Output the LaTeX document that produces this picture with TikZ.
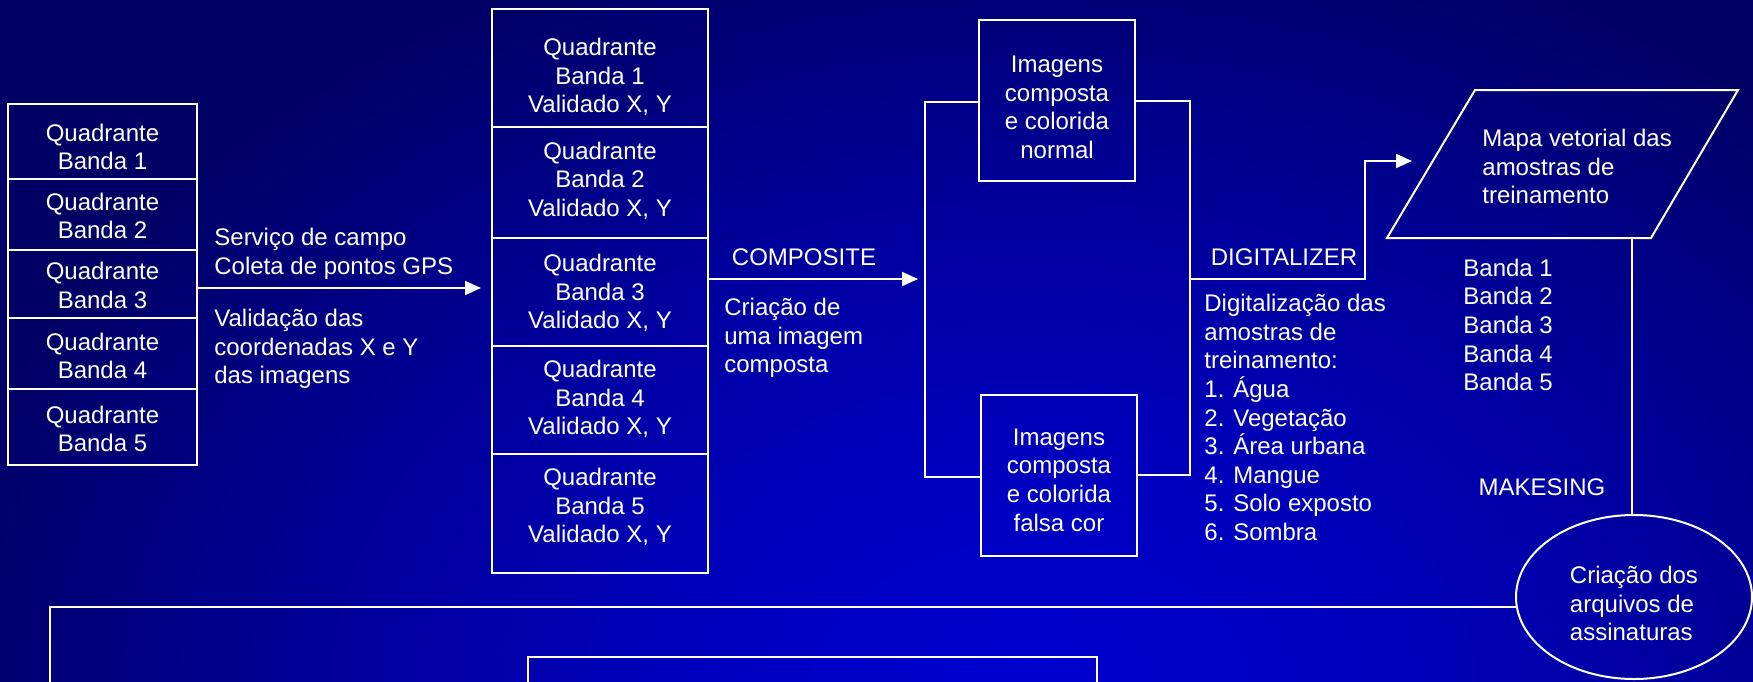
\documentclass[tikz,border=0pt]{standalone}
\usepackage{fontspec}
\setmainfont{Liberation Sans}
\usetikzlibrary{arrows.meta,shapes.geometric}
\definecolor{navy}{RGB}{0,0,100}
\definecolor{brightblue}{RGB}{0,0,208}
\begin{document}
\begin{tikzpicture}[x=0.5pt,y=-0.5pt,
  font=\fontsize{12pt}{14.3pt}\selectfont,
  box/.style={draw=white, line width=1pt, inner sep=0pt, outer sep=0pt},
  txt/.style={text=white, align=center, inner sep=0pt},
  ltxt/.style={text=white, align=left, inner sep=0pt, anchor=west},
  wire/.style={draw=white, line width=1pt},
  arr/.style={wire, -{Triangle[length=8pt,width=7pt]}}]
% background
\fill[navy] (0,0) rectangle (1753,681);
\begin{scope}
  \clip (0,0) rectangle (1753,681);
  \foreach \i in {0,...,79} {
    \pgfmathsetmacro\dd{1-\i/80}
    \pgfmathsetmacro\rx{560*\dd}
    \pgfmathsetmacro\ry{400*\dd}
    \pgfmathsetmacro\pc{100*(1-\dd^1.5)}
    \fill[brightblue!\pc!navy] (1030,700) ellipse [x radius=\rx pt, y radius=\ry pt];
  }
\end{scope}
\useasboundingbox (0,0) rectangle (1753,681);

% left stack
\node[box, minimum width=94.5pt, minimum height=37.5pt] (q1) at (102.5,141.5) {};
\node[box, minimum width=94.5pt, minimum height=35.5pt] (q2) at (102.5,214.5) {};
\node[box, minimum width=94.5pt, minimum height=34pt]   (q3) at (102.5,284) {};
\node[box, minimum width=94.5pt, minimum height=35.5pt] (q4) at (102.5,353.5) {};
\node[box, minimum width=94.5pt, minimum height=38pt]   (q5) at (102.5,427) {};
\node[txt] (q1t) at (102.5,147)   {Quadrante\\Banda 1};
\node[txt] (q2t) at (102.5,216)   {Quadrante\\Banda 2};
\node[txt] (q3t) at (102.5,285.5) {Quadrante\\Banda 3};
\node[txt] (q4t) at (102.5,356)   {Quadrante\\Banda 4};
\node[txt] (q5t) at (102.5,429)   {Quadrante\\Banda 5};

% second stack
\node[box, minimum width=108pt, minimum height=59pt]   (v1) at (600,68) {};
\node[box, minimum width=108pt, minimum height=55.5pt] (v2) at (600,182.5) {};
\node[box, minimum width=108pt, minimum height=54pt]   (v3) at (600,292) {};
\node[box, minimum width=108pt, minimum height=54pt]   (v4) at (600,400) {};
\node[box, minimum width=108pt, minimum height=59.5pt] (v5) at (600,513.5) {};
\node[txt] (v1t) at (600,77)    {Quadrante\\Banda 1\\Validado X, Y};
\node[txt] (v2t) at (600,180.5) {Quadrante\\Banda 2\\Validado X, Y};
\node[txt] (v3t) at (600,293)   {Quadrante\\Banda 3\\Validado X, Y};
\node[txt] (v4t) at (600,399)   {Quadrante\\Banda 4\\Validado X, Y};
\node[txt] (v5t) at (600,507)   {Quadrante\\Banda 5\\Validado X, Y};

% first arrow
\coordinate (t1) at (481,288);
\draw[arr] (q3.east |- t1) -- (t1);
\node[ltxt] (serv) at (214,254) {Serviço de campo\\Coleta de pontos GPS};
\node[ltxt] (valid) at (214,349) {Validação das\\coordenadas X e Y\\das imagens};

% composite arrow
\coordinate (t2) at (918,279);
\draw[arr] (v3.east |- t2) -- (t2);
\node[txt] (comp) at (804,257) {COMPOSITE};
\node[ltxt] (criacao) at (724,338) {Criação de\\uma imagem\\composta};

% composite image boxes
\node[box, minimum width=78pt, minimum height=80.5pt] (n1) at (1057,100.5) {};
\node[txt] (n1t) at (1057,107.5) {Imagens\\composta\\e colorida\\normal};
\node[box, minimum width=78pt, minimum height=80.5pt] (n2) at (1059,475.5) {};
\node[txt] (n2t) at (1059,480) {Imagens\\composta\\e colorida\\falsa cor};

% brackets
\coordinate (bl1) at (925,102);
\coordinate (bl2) at (925,477);
\draw[wire] (n1.west |- bl1) -- (bl1) -- (bl2) -- (n2.west |- bl2);
\coordinate (br1) at (1190,101);
\coordinate (br2) at (1190,475);
\draw[wire] (n1.east |- br1) -- (br1) -- (br2) -- (n2.east |- br2);

% digitalizer
\coordinate (d0) at (1190,279);
\coordinate (d1) at (1365,279);
\coordinate (d2) at (1365,161);
\coordinate (t3) at (1412,161);
\draw[arr] (d0) -- (d1) -- (d2) -- (t3);
\node[txt] (digi) at (1284,257) {DIGITALIZER};
\node[ltxt] (dlist) at (1204,417.5) {Digitalização das\\amostras de\\treinamento:\\1. Água\\2. Vegetação\\3. Área urbana\\4. Mangue\\5. Solo exposto\\6. Sombra};

% parallelogram
\coordinate (p1) at (1475,90);
\coordinate (p2) at (1738,90);
\coordinate (p3) at (1651,238);
\coordinate (p4) at (1387,238);
\draw[wire, line join=miter] (p1) -- (p2) -- (p3) -- (p4) -- cycle;
\node[ltxt] (mapa) at (1482,166.5) {Mapa vetorial das\\amostras de\\treinamento};
\node[ltxt] (bandas) at (1463,325) {Banda 1\\Banda 2\\Banda 3\\Banda 4\\Banda 5};

% ellipse
\node[draw=white, line width=1pt, ellipse, minimum width=118pt, minimum height=82pt, inner sep=0pt] (ell) at (1634,597) {};
\node[txt, align=left] (ellt) at (1634,603.5) {Criação dos\\arquivos de\\assinaturas};
\coordinate (pv) at (1632,238);
\draw[wire] (pv) -- (pv |- ell.north);
\node[txt] (make) at (1542,487) {MAKESING};

% bottom frame
\coordinate (bb) at (50,700);
\draw[wire] (ell.185) -| (bb);
\node[box, anchor=north west, minimum width=284.5pt, minimum height=40pt] (inner) at (528,657) {};
\end{tikzpicture}
\end{document}
